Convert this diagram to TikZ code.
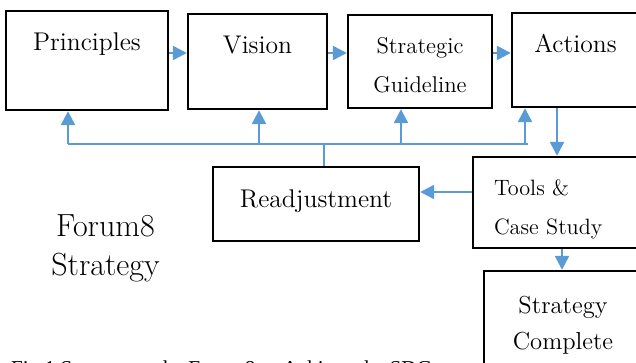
\documentclass[tikz,border=0pt]{standalone}
\usepackage{fontspec}
\newfontfamily\capfont{Liberation Serif}
\usepackage{tikz}
\usetikzlibrary{arrows.meta}
\definecolor{flowblue}{RGB}{91,155,213}
\tikzstyle{stage} = [draw, line width=1.2pt, inner sep=0pt, align=center]
\tikzset{>={Triangle[length=7pt,width=7pt]}}
\tikzstyle{flow} = [->, draw=flowblue, line width=1.2pt]
\tikzstyle{feedback} = [draw=flowblue, line width=0.8pt]
\tikzset{topline/.style={text height=8.9pt, text depth=#1},
    labelfont/.style={font=\fontsize{12.8}{15}\selectfont}}

\begin{document}
\begin{tikzpicture}[x=0.5pt,y=-0.5pt]
    \useasboundingbox (0,0) rectangle (636,363);
    \clip (0,0) rectangle (636,363);
    %stages
    \node[stage, labelfont, topline=18.4pt, minimum width=81pt, minimum height=49.5pt] (princ) at (87,60.5) {Principles};
    \node[stage, labelfont, topline=16.4pt, minimum width=69.5pt, minimum height=47.5pt] (vision) at (257.5,61.5) {Vision};
    \node[stage, font=\fontsize{11.4}{19.5}\selectfont, text height=31.5pt, minimum width=72pt, minimum height=46.5pt] (guide) at (420,61.5) {Strategic\\Guideline};
    \node[stage, labelfont, topline=15.9pt, minimum width=63.5pt, minimum height=47pt] (actions) at (575.5,60) {Actions};
    \node[stage, font=\fontsize{11.1}{19.5}\selectfont, align=left, text width=72.5pt, inner xsep=10.5pt, text height=15.2pt, minimum height=45.5pt] (tools) at (566.5,202.5) {Tools \&\\Case Study};
    \node[stage, labelfont, topline=5pt, minimum width=103pt, minimum height=37pt] (readj) at (316,204) {Readjustment};
    \node[stage, font=\fontsize{12.3}{18}\selectfont, minimum width=79pt, minimum height=54.7pt] (complete) at (563,325.7) {Strategy\\Complete};
    %texts
    \node[align=center, font=\fontsize{16}{19.5}\selectfont] (title) at (105.5,248) {Forum8\\Strategy};
    \node[anchor=base west, font=\capfont\fontsize{10.6}{12}\selectfont] (caption) at (4,375) {Fig.1 Strategy at the Forum8 to Achieve the SDGs};
    %points
    \coordinate (toprow) at (0,53);
    \coordinate (row2) at (0,192);
    \coordinate (col1) at (557,0);
    \coordinate (col2) at (562,0);
    \coordinate (fb1) at (68,144);
    \coordinate (fb2) at (259,144);
    \coordinate (fb3) at (401,144);
    \coordinate (fb4) at (525,144);
    \coordinate (fbj) at (324,144);
    %lines
    \draw[flow] (princ.east |- toprow) -- (vision.west |- toprow);
    \draw[flow] (vision.east |- toprow) -- (guide.west |- toprow);
    \draw[flow] (guide.east |- toprow) -- (actions.west |- toprow);
    \draw[flow] (col1 |- actions.south) -- (col1 |- tools.north);
    \draw[flow] (tools.west |- row2) -- (readj.east |- row2);
    \draw[flow] (col2 |- tools.south) -- (col2 |- complete.north);
    \draw[feedback] (fb1) -- ([xshift=1.5pt]fb4);
    \draw[feedback, line width=0.6pt] (fbj) -- (fbj |- readj.north);
    \draw[flow] (fb1) -- (fb1 |- princ.south);
    \draw[flow] (fb2) -- (fb2 |- vision.south);
    \draw[flow] (fb3) -- (fb3 |- guide.south);
    \draw[flow] (fb4) -- (fb4 |- actions.south);
\end{tikzpicture}
\end{document}
